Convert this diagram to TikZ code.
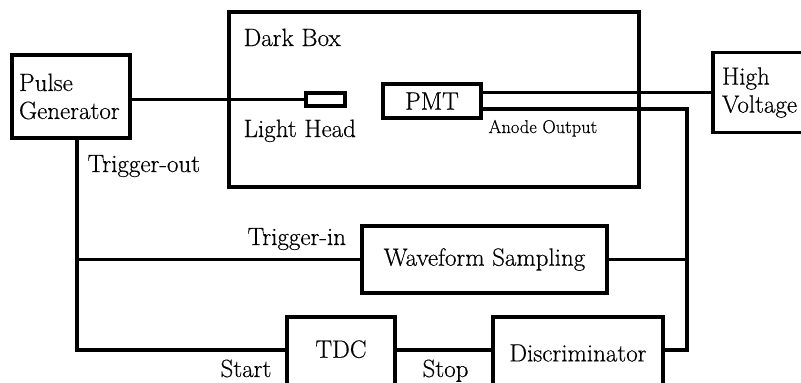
\documentclass[tikz,border=0pt]{standalone}
\usepackage{fontspec}
\newfontfamily\lmr{Latin Modern Roman}[FakeBold=0.4]
\begin{document}
\begin{tikzpicture}[x=1pt,y=-1pt,line width=3.2pt,
  box/.style={draw,rectangle,inner sep=0pt,font=\lmr\fontsize{25}{28}\selectfont},
  lbl/.style={anchor=base west,inner sep=0pt,font=\lmr\fontsize{25}{28}\selectfont},
  small/.style={anchor=base west,inner sep=0pt,font=\lmr\fontsize{18.5}{20}\selectfont}]
\useasboundingbox (0,0) rectangle (801,383);
% boxes
\node[box,minimum width=118pt,minimum height=83pt,text width=104pt,align=left,inner xsep=7pt] (pg) at (71,96.5) {Pulse\\Generator};
\node[box,minimum width=410pt,minimum height=175pt] (dark) at (434,99.5) {};
\node[box,minimum width=39pt,minimum height=13pt] (lh) at (325.5,99.5) {};
\node[box,minimum width=98pt,minimum height=34pt] (pmt) at (432,101) {PMT};
\node[box,minimum width=117pt,minimum height=80pt,text width=99pt,align=left,inner xsep=9pt] (hv) at (771.5,92.5) {High\\Voltage};
\node[box,minimum width=245pt,minimum height=67pt] (wf) at (484.5,259.5) {Waveform Sampling};
\node[box,minimum width=108pt,minimum height=72pt,text depth=8pt] (tdc) at (341,353) {TDC};
\node[box,minimum width=170pt,minimum height=72pt] (disc) at (578,353) {Discriminator};
% labels
\node[lbl] (darklbl) at (242,46) {Dark Box};
\node[lbl] (lhlbl) at (242,137) {Light Head};
\node[small] (anode) at (487,133) {Anode Output};
\node[lbl] (trigout) at (86,172) {Trigger-out};
\node[lbl] (trigin) at (246,245) {Trigger-in};
\node[lbl] (start) at (219,377) {Start};
\node[lbl] (stop) at (421,377) {Stop};
% junction coordinates
\coordinate (ao) at (687,109);
\coordinate (ad) at (687,350);
\coordinate (to) at (77,350);
% connectors
\draw (lh.west) -- (lh.west -| pg.east);
\draw (hv.west) -- (hv.west -| pmt.east);
\draw (pmt.east |- ao) -- (ao) -- (ad) -- (disc.east |- ad);
\draw (wf.east) -- (wf.east -| ao);
\draw (pg.south -| to) -- (to) -- (tdc.west |- to);
\draw (wf.west) -- (wf.west -| to);
\draw (tdc.east |- to) -- (disc.west |- to);
\end{tikzpicture}
\end{document}
